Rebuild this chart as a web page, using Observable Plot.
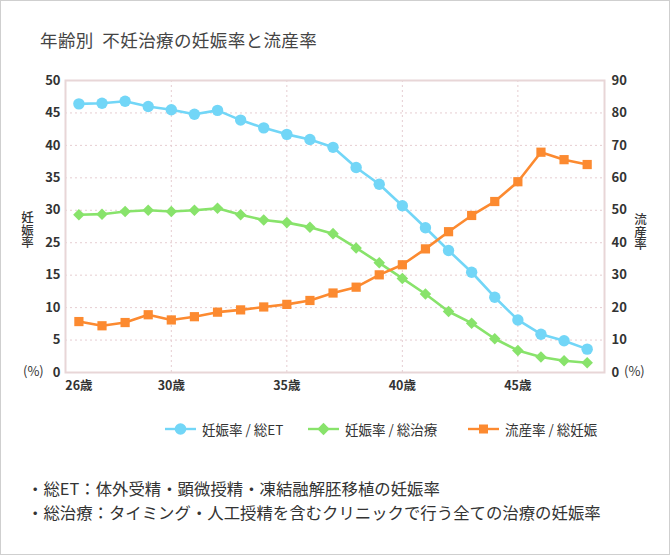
<!DOCTYPE html>
<html><head><meta charset="utf-8">
<script src="https://cdn.jsdelivr.net/npm/d3@7"></script>
<script src="https://cdn.jsdelivr.net/npm/@observablehq/plot@0.6"></script>
<style>
body{margin:0;background:#fff;font-family:"Noto Sans CJK JP","Noto Sans",sans-serif;color:#333;}
#wrap{position:relative;width:670px;height:555px;overflow:hidden;background:#fff;}
#chart{position:absolute;left:0;top:0;}
#border{position:absolute;left:0;top:0;width:670px;height:555px;box-sizing:border-box;border:1px solid #cfcfcf;pointer-events:none;}
#title{position:absolute;left:40px;top:28px;font-size:17.5px;color:#444;white-space:pre;line-height:24px;letter-spacing:0.4px;}
.vlab{position:absolute;writing-mode:vertical-rl;font-size:12.5px;font-weight:500;color:#333;line-height:13px;letter-spacing:0;}
.pct{position:absolute;font-size:13px;color:#333;line-height:16px;}
.leg{position:absolute;top:420px;height:18px;display:flex;align-items:center;font-size:13.5px;color:#333;white-space:pre;}
.leg svg{margin-right:6px;}
.note{position:absolute;left:27px;font-size:16.4px;color:#333;white-space:pre;line-height:22px;}
.chart text{font-weight:700;}
</style>
</head><body>
<div id="wrap">
  <div id="chart"></div>
  <div id="title"></div>
  <div id="labL" class="vlab" style="left:21px;top:211px;"></div>
  <div id="labR" class="vlab" style="left:634px;top:213px;"></div>
  <div id="pctL" class="pct" style="left:23px;top:363px;"></div>
  <div id="pctR" class="pct" style="left:624px;top:363px;"></div>
  <div id="legend"></div>
  <div id="note1" class="note" style="top:477px;"></div>
  <div id="note2" class="note" style="top:501px;"></div>
  <div id="border"></div>
</div>
<script>
// ---- data ----
const ages = [26,27,28,29,30,31,32,33,34,35,36,37,38,39,40,41,42,43,44,45,46,47,48];
const pregET = [46.4,46.5,46.8,46.0,45.5,44.8,45.4,43.9,42.7,41.7,40.9,39.7,36.6,34.0,30.7,27.3,22.6,15.9,11.6,8.1,5.9,4.9,3.6];
const pregAll = [29.3,29.4,29.8,30.0,29.8,30.0,30.3,29.3,28.5,28.1,27.4,26.4,23.4,18.8,14.5,12.1,9.4,7.6,5.2,3.4,2.4,1.8,1.5];
const miscarriage = [15.7,14.4,15.4,17.8,16.2,17.2,18.6,19.3,20.2,21.0,22.2,24.5,26.3,30.1,33.2,38.1,43.4,48.4,52.7,58.8,67.9,65.6,64.1];
const leftTicks = [0,5,10,15,25,30,35,40,45,50];
const rightTicks = [0,10,20,30,40,50,60,70,80,90];
const xTicks = [26,30,35,40,45];
const xSuffix = "歳";
const seriesNames = ["妊娠率 / 総ET","妊娠率 / 総治療","流産率 / 総妊娠"];
const titleText = "年齢別  不妊治療の妊娠率と流産率";
const leftTitle = "妊娠率", rightTitle = "流産率", pctText = "(%)";
const notes = ["・総ET：体外受精・顕微授精・凍結融解胚移植の妊娠率","・総治療：タイミング・人工授精を含むクリニックで行う全ての治療の妊娠率"];

const colors = ["#72d6f7","#88e36b","#fc8a30"];
const symbols = ["circle","diamond2","square"];

// left-axis values -> right-axis (shared y) units, following the reference's tick labelling
const toRight = d3.scaleLinear().domain(leftTicks).range(rightTicks);
const rows = ages.map((a,i)=>({age:a, et:toRight(pregET[i]), all:toRight(pregAll[i]), mis:miscarriage[i]}));
const keys = ["et","all","mis"];

const marks = [
  Plot.gridY(rightTicks.slice(1,-1), {stroke:"#e6cdd1", strokeOpacity:1, strokeDasharray:"2,3", strokeWidth:1}),
  Plot.gridX(xTicks.slice(1), {stroke:"#e6cdd1", strokeOpacity:1, strokeDasharray:"2,3", strokeWidth:1}),
  Plot.frame({stroke:"#e8d6d7", strokeWidth:2}),
  Plot.axisY(rightTicks, {anchor:"left", tickSize:0, tickPadding:5, label:null, fontSize:13,
    tickFormat:d=>String(leftTicks[rightTicks.indexOf(d)])}),
  Plot.axisY(rightTicks, {anchor:"right", tickSize:0, tickPadding:7, label:null, fontSize:13}),
  Plot.axisX(xTicks, {anchor:"bottom", tickSize:0, tickPadding:9, label:null, fontSize:12.5,
    tickFormat:d=>d+xSuffix})
];
keys.forEach((k,j)=>{
  marks.push(Plot.line(rows,{x:"age", y:k, stroke:colors[j], strokeWidth:2.6}));
});
keys.forEach((k,j)=>{
  marks.push(Plot.dot(rows,{x:"age", y:k, fill:colors[j], stroke:"none", symbol:symbols[j], r:[5.7,5.2,5.2][j]}));
});

const chart = Plot.plot({
  width:670, height:400, marginLeft:65, marginRight:66, marginTop:80, marginBottom:28,
  className:"chart",
  style:{background:"transparent", fontFamily:'"Noto Sans CJK JP", "Noto Sans", sans-serif', color:"#333"},
  x:{domain:[25.42,48.75]},
  y:{domain:[0,90]},
  marks
});
document.getElementById("chart").appendChild(chart);

document.getElementById("title").textContent = titleText;
document.getElementById("labL").textContent = leftTitle;
document.getElementById("labR").textContent = rightTitle;
document.getElementById("pctL").textContent = pctText;
document.getElementById("pctR").textContent = pctText;
document.getElementById("note1").textContent = notes[0];
document.getElementById("note2").textContent = notes[1];

// legend
const legX = [165,308,468];
const leg = document.getElementById("legend");
seriesNames.forEach((name,j)=>{
  const item = document.createElement("div");
  item.className = "leg";
  item.style.left = legX[j]+"px";
  const sym = j===0 ? `<circle cx="15.5" cy="9" r="5.8" fill="${colors[j]}"/>`
    : j===1 ? `<path d="M15.5 2.8 L21.7 9 L15.5 15.2 L9.3 9 Z" fill="${colors[j]}"/>`
    : `<rect x="11" y="4.5" width="9" height="9" fill="${colors[j]}"/>`;
  item.innerHTML = `<svg width="31" height="18"><line x1="0" x2="31" y1="9" y2="9" stroke="${colors[j]}" stroke-width="2.4"/>${sym}</svg><span></span>`;
  item.querySelector("span").textContent = name;
  leg.appendChild(item);
});
</script>
</body></html>
